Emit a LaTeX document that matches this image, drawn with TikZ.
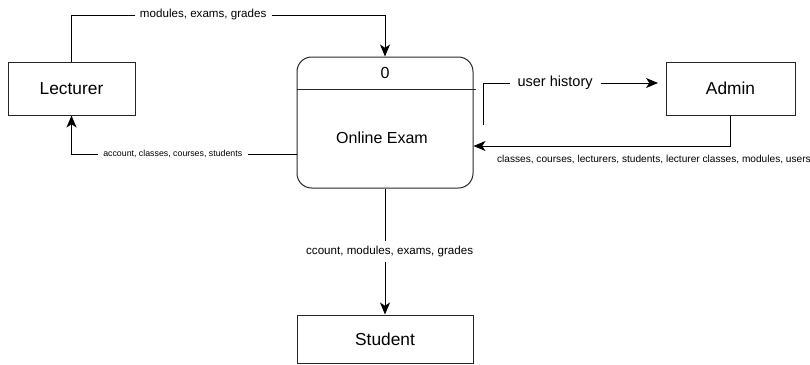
\documentclass[tikz,border=0pt]{standalone}
\usepackage{fontspec}
\setmainfont{Liberation Sans}
\usetikzlibrary{arrows.meta}

\begin{document}
\begin{tikzpicture}[x=0.75pt,y=-0.75pt,line width=0.75pt,
    >={Stealth[length=9pt,width=7.5pt,inset=2.5pt]},
    entity/.style={shape=rectangle,draw=black!85,minimum height=39.75pt,font=\fontsize{13}{15}\selectfont},
    flow/.style={fill=white,inner sep=4pt}]
    \useasboundingbox (0,0) rectangle (810,364);

    \node[entity,minimum width=95.25pt] (lecturer) at (71.5,88.5) {Lecturer};
    \node[entity,minimum width=96.75pt] (admin) at (730.5,88.5) {Admin};
    \node[entity,minimum width=132pt,minimum height=36pt] (student) at (385,339) {Student};
    \node[shape=rectangle,rounded corners=11pt,draw=black!85,minimum width=132pt,minimum height=98.25pt] (exam) at (385,122.5) {};
    \node[font=\fontsize{12}{14}\selectfont] (examid) at (385,73) {0};
    \node[font=\fontsize{12}{14}\selectfont] (examname) at (382,138) {Online Exam};
    \draw[draw=black!85] (exam.west |- 0,89) -- ([xshift=1.5pt]exam.east |- 0,89);

    \coordinate (histstart) at (483,125);
    \coordinate (histend) at (658,83);

    \draw [->] (lecturer.north) |- node[flow,pos=0.71,font=\fontsize{8.7}{10}\selectfont] {modules, exams, grades} (exam.north |- 0,15) -- (exam.north);
    \draw [->] (exam.west |- 0,154) -| node[flow,pos=0.275,font=\fontsize{6.6}{8}\selectfont] {account, classes, courses, students} (lecturer.south);
    \draw [->] (admin.south) |- node[pos=0.649,below=3pt,font=\fontsize{7.6}{9}\selectfont] {classes, courses, lecturers, students, lecturer classes, modules, users} (exam.east |- 0,146);
    \draw [->] (histstart) |- node[flow,pos=0.706,inner sep=6pt,font=\fontsize{10.9}{13}\selectfont] {user history} (histend);
    \draw [->] (exam.south) -- node[flow,xshift=3.5pt,font=\fontsize{8.7}{10}\selectfont] {ccount, modules, exams, grades} (student.north);
\end{tikzpicture}
\end{document}
